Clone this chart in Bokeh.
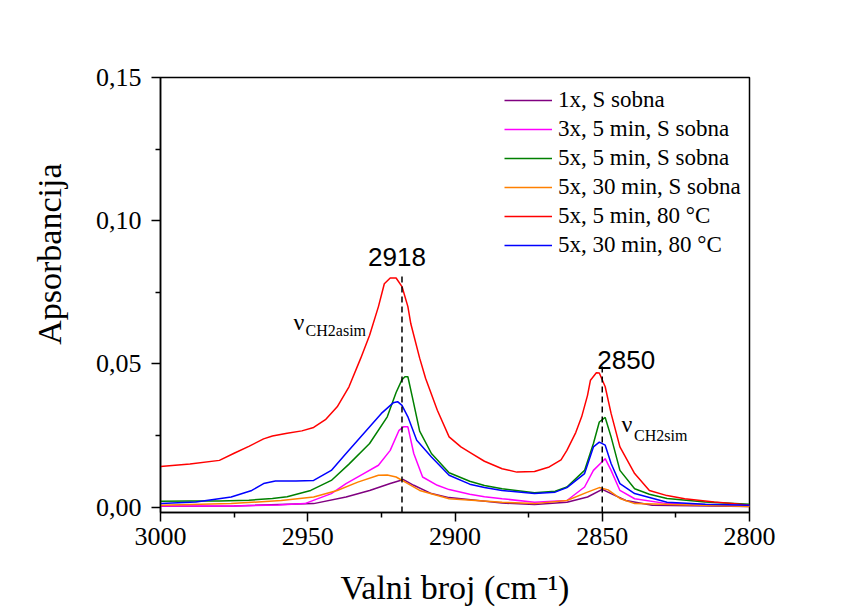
from bokeh.plotting import figure
from bokeh.models import Label, Range1d, FixedTicker, CustomJSTickFormatter, Title
from bokeh.embed import file_html
from bokeh.resources import INLINE

# ---------------- data ----------------
series_names = ["1x, S sobna", "3x, 5 min, S sobna", "5x, 5 min, S sobna",
                "5x, 30 min, S sobna", "5x, 5 min, 80 °C", "5x, 30 min, 80 °C"]
series_colors = ["#800080", "#FF00FF", "#008000", "#FF8000", "#FF0000", "#0000FF"]

purple_x = [3000, 2975, 2948, 2937, 2929, 2922, 2917.5, 2914, 2908, 2902, 2884, 2873,
            2862, 2855, 2850, 2847, 2842, 2833, 2800]
purple_y = [0.0003, 0.0004, 0.0012, 0.0035, 0.0058, 0.0082, 0.0096, 0.0076, 0.0047, 0.0033,
            0.0014, 0.0009, 0.0017, 0.0035, 0.0062, 0.0047, 0.0023, 0.0006, 0.0002]

magenta_x = [3000, 2975, 2960, 2951, 2942, 2937, 2931, 2926, 2922, 2919, 2917.5, 2916, 2914,
             2911, 2906, 2902, 2895, 2890, 2884, 2873, 2862, 2856, 2853, 2849, 2847, 2844,
             2839, 2828, 2800]
magenta_y = [0.0004, 0.0004, 0.0007, 0.0012, 0.0047, 0.0082, 0.0117, 0.0146, 0.0198, 0.0268,
             0.0280, 0.0280, 0.0187, 0.0105, 0.0076, 0.0061, 0.0045, 0.0036, 0.0029, 0.0017,
             0.0023, 0.0070, 0.0128, 0.0169, 0.0128, 0.0058, 0.0029, 0.0012, 0.0004]

green_x = [3000, 2990, 2980, 2970, 2962, 2957, 2949, 2942, 2936, 2929, 2923, 2920, 2918,
           2917, 2916, 2914.5, 2912, 2908, 2902, 2895, 2890, 2884, 2873, 2866, 2862, 2856,
           2853, 2851, 2849, 2847, 2844, 2839, 2834, 2828, 2815, 2800]
green_y = [0.0020, 0.0021, 0.0021, 0.0024, 0.0030, 0.0036, 0.0058, 0.0093, 0.0150, 0.0222,
           0.0315, 0.0400, 0.0445, 0.0455, 0.0455, 0.0385, 0.0265, 0.0187, 0.0120, 0.0090,
           0.0075, 0.0064, 0.0050, 0.0055, 0.0070, 0.0128, 0.0222, 0.0297, 0.0313, 0.0245,
           0.0128, 0.0064, 0.0045, 0.0030, 0.0018, 0.0010]

orange_x = [3000, 2976, 2959, 2948, 2940, 2933, 2926, 2923, 2920, 2916, 2912, 2902, 2884,
            2873, 2862, 2855, 2851, 2848, 2844, 2839, 2800]
orange_y = [0.0006, 0.0012, 0.0023, 0.0035, 0.0058, 0.0087, 0.0111, 0.0112, 0.0105, 0.0082,
            0.0058, 0.0029, 0.0017, 0.0012, 0.0023, 0.0052, 0.0068, 0.0060, 0.0030, 0.0012,
            0.0002]

red_x = [3000, 2990, 2980, 2975, 2970, 2965, 2962, 2957, 2952, 2948, 2944, 2940, 2936, 2932,
         2929, 2926, 2924, 2922, 2920, 2918, 2916, 2915, 2912, 2910, 2906, 2902, 2898, 2894,
         2890, 2884, 2879, 2873, 2868, 2864, 2862, 2859, 2857, 2855, 2854, 2852, 2851, 2849,
         2847, 2844, 2839, 2834, 2828, 2822, 2812, 2805, 2800]
red_y = [0.0142, 0.0150, 0.0163, 0.0188, 0.0212, 0.0238, 0.0248, 0.0258, 0.0266, 0.0278,
         0.0305, 0.0350, 0.0420, 0.0520, 0.0600, 0.0700, 0.0780, 0.0800, 0.0800, 0.0770,
         0.0700, 0.0640, 0.0520, 0.0450, 0.0338, 0.0245, 0.0210, 0.0185, 0.0160, 0.0134,
         0.0122, 0.0124, 0.0140, 0.0165, 0.0198, 0.0260, 0.0315, 0.0390, 0.0443, 0.0469,
         0.0468, 0.0420, 0.0327, 0.0210, 0.0117, 0.0058, 0.0040, 0.0029, 0.0018, 0.0012,
         0.0006]

blue_x = [3000, 2988, 2976, 2969, 2965, 2961, 2954, 2948, 2942, 2937, 2931, 2925, 2921,
          2919.5, 2918, 2916, 2913, 2908, 2902, 2895, 2890, 2884, 2873, 2866, 2862, 2856,
          2853, 2851, 2849, 2847, 2844, 2839, 2828, 2815, 2800]
blue_y = [0.0012, 0.0018, 0.0035, 0.0058, 0.0082, 0.0091, 0.0091, 0.0093, 0.0128, 0.0187,
          0.0257, 0.0327, 0.0364, 0.0368, 0.0355, 0.0315, 0.0233, 0.0175, 0.0111, 0.0080,
          0.0068, 0.0058, 0.0047, 0.0052, 0.0068, 0.0117, 0.0210, 0.0227, 0.0216, 0.0152,
          0.0082, 0.0047, 0.0017, 0.0010, 0.0006]

series_x = [purple_x, magenta_x, green_x, orange_x, red_x, blue_x]
series_y = [purple_y, magenta_y, green_y, orange_y, red_y, blue_y]

x_ticks = [3000, 2950, 2900, 2850, 2800]
x_minor = [2975, 2925, 2875, 2825]
y_ticks = [0.0, 0.05, 0.10, 0.15]
y_minor = [0.025, 0.075, 0.125]

peak_positions = [2918, 2850]
peak_tops = [0.081, 0.0502]

SERIF = "Liberation Serif"
SANS = "Liberation Sans"

p = figure(width=856, height=608, output_backend="svg", toolbar_location=None,
           x_range=Range1d(3000, 2800), y_range=Range1d(-0.0019, 0.15),
           min_border_left=160, min_border_right=107, min_border_top=77, min_border_bottom=96)
p.background_fill_color = "white"
p.border_fill_color = "white"
p.grid.visible = False
p.outline_line_color = "black"
p.outline_line_width = 1.5
p.outline_line_alpha = 1.0

for xs, ys, name, col in zip(series_x, series_y, series_names, series_colors):
    p.line(xs, ys, line_color=col, line_width=1.5, legend_label=name)

# dashed peak markers
p.segment(x0=peak_positions, y0=[-0.0019, -0.0019], x1=peak_positions, y1=peak_tops,
          line_color="black", line_width=1.5, line_dash="6 4")

for ax in (p.xaxis[0], p.yaxis[0]):
    ax.axis_line_color = "black"
    ax.axis_line_width = 1.5
    ax.major_tick_line_color = "black"
    ax.major_tick_line_width = 1.5
    ax.minor_tick_line_color = "black"
    ax.minor_tick_line_width = 1.5
    ax.major_tick_in = 0
    ax.major_tick_out = 9
    ax.minor_tick_in = 0
    ax.minor_tick_out = 5
    ax.major_label_text_font = SERIF
    ax.major_label_text_font_size = "26px"
    ax.major_label_text_color = "black"
    ax.axis_label_text_font = SERIF
    ax.axis_label_text_font_style = "normal"
    ax.axis_label_text_font_size = "34px"
    ax.axis_label_text_color = "black"

p.xaxis.ticker = FixedTicker(ticks=x_ticks, minor_ticks=x_minor)
p.yaxis.ticker = FixedTicker(ticks=y_ticks, minor_ticks=y_minor)
p.yaxis.formatter = CustomJSTickFormatter(code="return tick.toFixed(2).replace('.', ',');")
p.xaxis.formatter = CustomJSTickFormatter(code="return tick.toFixed(0);")
p.xaxis.major_label_standoff = 6
p.yaxis.major_label_standoff = 10

p.xaxis.axis_label = "Valni broj (cm⁻¹)"
p.xaxis.axis_label_standoff = 21

p.add_layout(Title(text="Apsorbancija", align="right", offset=86, standoff=50,
                   text_font=SERIF, text_font_size="34px", text_font_style="normal",
                   text_color="black"), "left")

# legend
lg = p.legend[0]
lg.location = (344, 254)
lg.background_fill_alpha = 0
lg.border_line_alpha = 0
lg.padding = 0
lg.margin = 0
lg.spacing = 3
lg.glyph_width = 48
lg.glyph_height = 20
lg.label_height = 20
lg.label_standoff = 6
lg.label_text_font = SERIF
lg.label_text_font_size = "23px"
lg.label_text_color = "black"

# annotations
def px_to_x(px):
    return 3000 - (px - 160) / 2.9435

def px_to_y(py):
    return (506.7 - py) / 2860.0

p.add_layout(Label(x=2918, y=px_to_y(257.3), x_offset=-5, text="2918", text_font=SANS,
                   text_font_size="26px", text_align="center", text_baseline="alphabetic",
                   text_color="black"))
p.add_layout(Label(x=2850, y=px_to_y(360), x_offset=-5, text="2850", text_font=SANS,
                   text_font_size="26px", text_align="left", text_baseline="alphabetic",
                   text_color="black"))

p.add_layout(Label(x=px_to_x(293), y=px_to_y(321.7), text="ν", text_font=SERIF,
                   text_font_size="24px", text_baseline="alphabetic", text_color="black"))
p.add_layout(Label(x=px_to_x(305), y=px_to_y(330), text="CH2asim", text_font=SERIF,
                   text_font_size="16px", text_baseline="alphabetic", text_color="black"))
p.add_layout(Label(x=px_to_x(620.7), y=px_to_y(423.3), text="ν", text_font=SERIF,
                   text_font_size="24px", text_baseline="alphabetic", text_color="black"))
p.add_layout(Label(x=px_to_x(633.3), y=px_to_y(435), text="CH2sim", text_font=SERIF,
                   text_font_size="16px", text_baseline="alphabetic", text_color="black"))

open("out.html", "w").write(file_html(p, INLINE))
